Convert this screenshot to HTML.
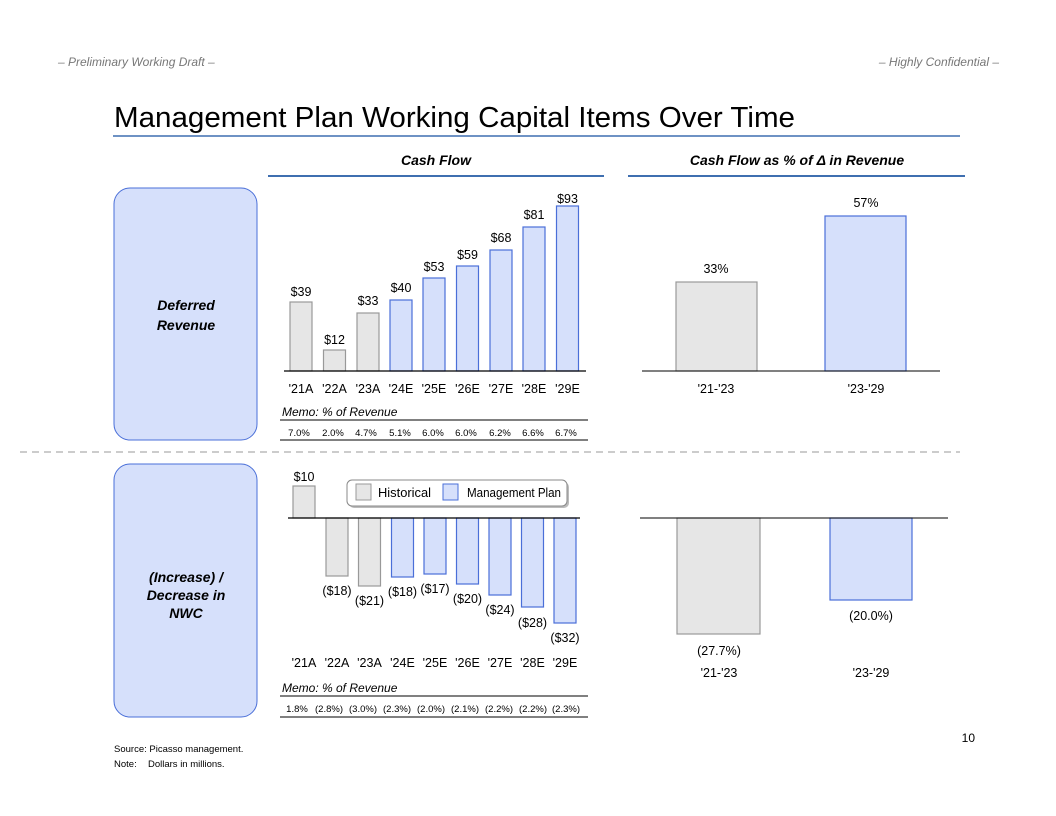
<!DOCTYPE html>
<html><head><meta charset="utf-8"><style>
html,body{margin:0;padding:0;background:#fff;}
svg{display:block;font-family:"Liberation Sans",sans-serif;}
</style></head><body>
<svg width="1056" height="816" viewBox="0 0 1056 816" xmlns="http://www.w3.org/2000/svg">
<text x="58" y="66" font-size="12" font-style="italic" fill="#777">– Preliminary Working Draft –</text>
<text x="999" y="66" font-size="12" font-style="italic" fill="#777" text-anchor="end">– Highly Confidential –</text>
<text x="114" y="127" font-size="29" fill="#000" textLength="681" lengthAdjust="spacingAndGlyphs">Management Plan Working Capital Items Over Time</text>
<line x1="113" y1="136" x2="960" y2="136" stroke="#3f6fb0" stroke-width="1.5"/>
<text x="436" y="165" font-size="14" font-weight="bold" font-style="italic" text-anchor="middle">Cash Flow</text>
<line x1="268" y1="176" x2="604" y2="176" stroke="#3f6fb0" stroke-width="2"/>
<text x="797" y="165" font-size="14" font-weight="bold" font-style="italic" text-anchor="middle">Cash Flow as % of Δ in Revenue</text>
<line x1="628" y1="176" x2="965" y2="176" stroke="#3f6fb0" stroke-width="2"/>

<rect x="114" y="188" width="143" height="252" rx="16" fill="#d6e0fb" stroke="#4a6fd8" stroke-width="1"/>
<text x="186" y="310" font-size="14" font-weight="bold" font-style="italic" text-anchor="middle">Deferred</text>
<text x="186" y="330" font-size="14" font-weight="bold" font-style="italic" text-anchor="middle">Revenue</text>
<rect x="114" y="464" width="143" height="253" rx="16" fill="#d6e0fb" stroke="#4a6fd8" stroke-width="1"/>
<text x="186" y="582" font-size="14" font-weight="bold" font-style="italic" text-anchor="middle">(Increase) /</text>
<text x="186" y="600" font-size="14" font-weight="bold" font-style="italic" text-anchor="middle">Decrease in</text>
<text x="186" y="618" font-size="14" font-weight="bold" font-style="italic" text-anchor="middle">NWC</text>
<line x1="20" y1="452" x2="960" y2="452" stroke="#999" stroke-dasharray="7,5"/>

<g stroke-width="1.2" font-size="12.5" text-anchor="middle">
<rect x="290" y="302" width="22" height="69" fill="#e6e6e6" stroke="#999"/>
<rect x="323.5" y="350" width="22" height="21" fill="#e6e6e6" stroke="#999"/>
<rect x="357" y="313" width="22" height="58" fill="#e6e6e6" stroke="#999"/>
<rect x="390" y="300" width="22" height="71" fill="#d6e0fb" stroke="#4a6fd8"/>
<rect x="423" y="278" width="22" height="93" fill="#d6e0fb" stroke="#4a6fd8"/>
<rect x="456.5" y="266" width="22" height="105" fill="#d6e0fb" stroke="#4a6fd8"/>
<rect x="490" y="250" width="22" height="121" fill="#d6e0fb" stroke="#4a6fd8"/>
<rect x="523" y="227" width="22" height="144" fill="#d6e0fb" stroke="#4a6fd8"/>
<rect x="556.5" y="206" width="22" height="165" fill="#d6e0fb" stroke="#4a6fd8"/>
<line x1="284" y1="371" x2="586" y2="371" stroke="#000"/>
<g stroke="none">
<text x="301" y="296">$39</text><text x="334.5" y="344">$12</text><text x="368" y="305">$33</text>
<text x="401" y="292">$40</text><text x="434" y="271">$53</text><text x="467.5" y="259">$59</text>
<text x="501" y="242">$68</text><text x="534" y="219">$81</text><text x="567.5" y="203">$93</text>
<text x="301" y="393">'21A</text><text x="334.5" y="393">'22A</text><text x="368" y="393">'23A</text>
<text x="401" y="393">'24E</text><text x="434" y="393">'25E</text><text x="467.5" y="393">'26E</text>
<text x="501" y="393">'27E</text><text x="534" y="393">'28E</text><text x="567.5" y="393">'29E</text>
</g>
</g>
<text x="282" y="416" font-size="12" font-style="italic">Memo: % of Revenue</text>
<line x1="280" y1="420" x2="588" y2="420" stroke="#000"/>
<g font-size="9.5" text-anchor="middle">
<text x="299" y="436">7.0%</text><text x="333" y="436">2.0%</text><text x="366" y="436">4.7%</text>
<text x="400" y="436">5.1%</text><text x="433" y="436">6.0%</text><text x="466" y="436">6.0%</text>
<text x="500" y="436">6.2%</text><text x="533" y="436">6.6%</text><text x="566" y="436">6.7%</text>
</g>
<line x1="280" y1="440" x2="588" y2="440" stroke="#000"/>

<rect x="676" y="282" width="81" height="89" fill="#e6e6e6" stroke="#999" stroke-width="1.2"/>
<rect x="825" y="216" width="81" height="155" fill="#d6e0fb" stroke="#4a6fd8" stroke-width="1.2"/>
<line x1="642" y1="371" x2="940" y2="371" stroke="#000"/>
<g font-size="12.5" text-anchor="middle">
<text x="716" y="273">33%</text><text x="866" y="207">57%</text>
<text x="716" y="393">'21-'23</text><text x="866" y="393">'23-'29</text>
</g>

<g stroke-width="1.2" font-size="12.5" text-anchor="middle">
<rect x="293" y="486" width="22" height="32" fill="#e6e6e6" stroke="#999"/>
<rect x="326" y="518" width="22" height="58" fill="#e6e6e6" stroke="#999"/>
<rect x="358.5" y="518" width="22" height="68" fill="#e6e6e6" stroke="#999"/>
<rect x="391.5" y="518" width="22" height="59" fill="#d6e0fb" stroke="#4a6fd8"/>
<rect x="424" y="518" width="22" height="56" fill="#d6e0fb" stroke="#4a6fd8"/>
<rect x="456.5" y="518" width="22" height="66" fill="#d6e0fb" stroke="#4a6fd8"/>
<rect x="489" y="518" width="22" height="77" fill="#d6e0fb" stroke="#4a6fd8"/>
<rect x="521.5" y="518" width="22" height="89" fill="#d6e0fb" stroke="#4a6fd8"/>
<rect x="554" y="518" width="22" height="105" fill="#d6e0fb" stroke="#4a6fd8"/>
<line x1="288" y1="518" x2="580" y2="518" stroke="#000"/>
<g stroke="none">
<text x="304" y="481">$10</text>
<text x="337" y="595">($18)</text><text x="369.5" y="605">($21)</text><text x="402.5" y="596">($18)</text>
<text x="435" y="593">($17)</text><text x="467.5" y="603">($20)</text><text x="500" y="614">($24)</text>
<text x="532.5" y="627">($28)</text><text x="565" y="642">($32)</text>
<text x="304" y="667">'21A</text><text x="337" y="667">'22A</text><text x="369.5" y="667">'23A</text>
<text x="402.5" y="667">'24E</text><text x="435" y="667">'25E</text><text x="467.5" y="667">'26E</text>
<text x="500" y="667">'27E</text><text x="532.5" y="667">'28E</text><text x="565" y="667">'29E</text>
</g>
</g>
<rect x="349" y="482" width="220" height="26" rx="5" fill="#bbb"/>
<rect x="347" y="480" width="220" height="26" rx="5" fill="#fff" stroke="#888"/>
<rect x="356" y="484" width="15" height="16" fill="#e6e6e6" stroke="#999"/>
<text x="378" y="497" font-size="12.5" textLength="53" lengthAdjust="spacingAndGlyphs">Historical</text>
<rect x="443" y="484" width="15" height="16" fill="#d6e0fb" stroke="#4a6fd8"/>
<text x="467" y="497" font-size="12.5" textLength="94" lengthAdjust="spacingAndGlyphs">Management Plan</text>
<text x="282" y="692" font-size="12" font-style="italic">Memo: % of Revenue</text>
<line x1="280" y1="696" x2="588" y2="696" stroke="#000"/>
<g font-size="9.5" text-anchor="middle">
<text x="297" y="712">1.8%</text><text x="329" y="712">(2.8%)</text><text x="363" y="712">(3.0%)</text>
<text x="397" y="712">(2.3%)</text><text x="431" y="712">(2.0%)</text><text x="465" y="712">(2.1%)</text>
<text x="499" y="712">(2.2%)</text><text x="533" y="712">(2.2%)</text><text x="566" y="712">(2.3%)</text>
</g>
<line x1="280" y1="717" x2="588" y2="717" stroke="#000"/>

<rect x="677" y="518" width="83" height="116" fill="#e6e6e6" stroke="#999" stroke-width="1.2"/>
<rect x="830" y="518" width="82" height="82" fill="#d6e0fb" stroke="#4a6fd8" stroke-width="1.2"/>
<line x1="640" y1="518" x2="948" y2="518" stroke="#000"/>
<g font-size="12.5" text-anchor="middle">
<text x="719" y="655">(27.7%)</text><text x="871" y="620">(20.0%)</text>
<text x="719" y="677">'21-'23</text><text x="871" y="677">'23-'29</text>
</g>

<text x="975" y="742" font-size="12" text-anchor="end">10</text>
<text x="114" y="752" font-size="9.5">Source: Picasso management.</text>
<text x="114" y="767" font-size="9.5">Note:<tspan x="148">Dollars in millions.</tspan></text>
</svg>
</body></html>
